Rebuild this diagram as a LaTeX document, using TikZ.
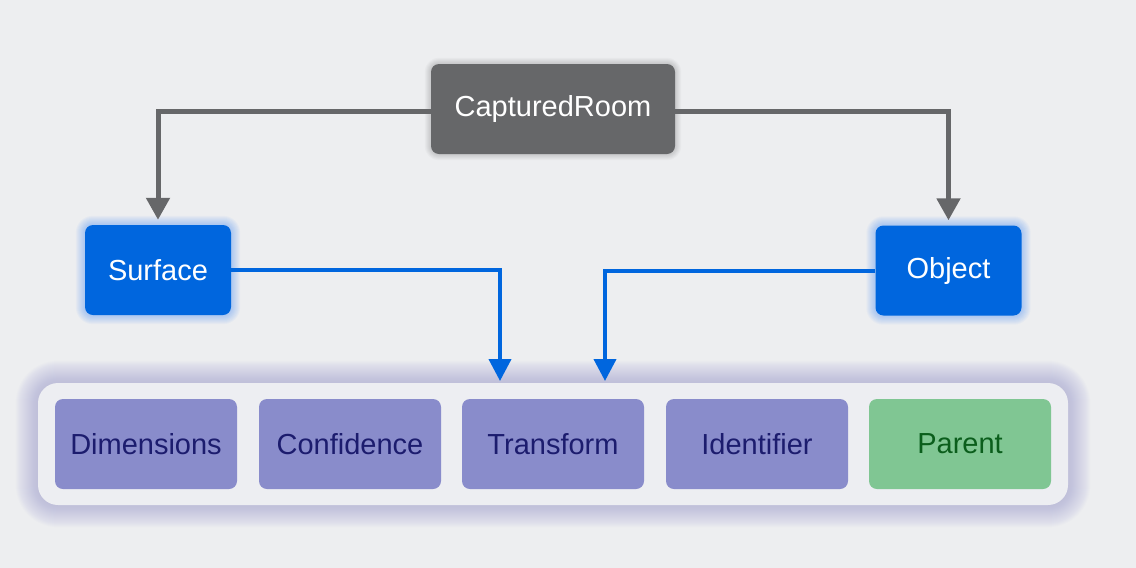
\documentclass[tikz,border=0pt]{standalone}
\usepackage{fontspec}
\setmainfont{Liberation Sans}
\usetikzlibrary{arrows.meta}
\definecolor{bgc}{HTML}{EDEEF0}
\definecolor{crgray}{HTML}{666769}
\definecolor{bluebox}{HTML}{0066DE}
\definecolor{purplebox}{HTML}{898CCB}
\definecolor{purpletext}{HTML}{1C1C6E}
\definecolor{greenbox}{HTML}{80C693}
\definecolor{greentext}{HTML}{0B5E1C}
\definecolor{contfill}{HTML}{EDEEF2}
\definecolor{contshadow}{HTML}{A8A8D8}
\definecolor{blueglow}{HTML}{3A88F0}
\pgfdeclarelayer{bglayer}
\pgfdeclarelayer{glowlayer}
\pgfsetlayers{bglayer,glowlayer,main}
\tikzset{
  box/.style={rectangle, rounded corners=8pt, inner sep=0pt, font=\fontsize{29}{32}\selectfont},
  rootbox/.style={box, fill=crgray, text=white, minimum width=244pt, minimum height=90pt},
  typebox/.style={box, fill=bluebox, text=white, minimum width=146pt, minimum height=90pt},
  propbox/.style={box, fill=purplebox, text=purpletext, minimum width=182pt, minimum height=90pt},
  parentbox/.style={box, fill=greenbox, text=greentext, minimum width=182pt, minimum height=90pt},
  grayarrow/.style={draw=crgray, line width=5pt, -{Triangle[width=23pt,length=22pt]}},
  bluearrow/.style={draw=bluebox, line width=4pt, -{Triangle[width=22pt,length=22pt]}},
}
\newcommand{\myglow}[5]{% node, color, steps, opacity, base radius
  \foreach \i in {1,...,#3}{
    \fill[#2, opacity=#4, rounded corners=#5+\i*1pt]
      ([shift={(-\i,-\i)}]#1.north west) rectangle ([shift={(\i,\i)}]#1.south east);
  }}
\begin{document}
\begin{tikzpicture}[x=1pt,y=-1pt]
\begin{pgfonlayer}{bglayer}
\fill[bgc] (0,0) rectangle (1136,568);
\end{pgfonlayer}
\useasboundingbox (0,0) rectangle (1136,568);
% container
\node[rectangle, rounded corners=20pt, fill=contfill, minimum width=1030pt, minimum height=122pt]
  (cont) at (553,444) {};
\node[rootbox] (cr) at (553,109) {CapturedRoom};
\node[typebox] (surf) at (158,270) {Surface};
\node[typebox] (obj) at (948.5,270.5) {Object};
\node[propbox] (dim) at (146,444) {Dimensions};
\node[propbox] (conf) at (350,444) {Confidence};
\node[propbox] (trans) at (553,444) {Transform};
\node[propbox] (ident) at (757,444) {Identifier};
\node[parentbox] (par) at (960,444) {Parent};
\begin{pgfonlayer}{glowlayer}
\myglow{cont}{contshadow}{22}{0.035}{20pt}
\myglow{surf}{blueglow}{9}{0.045}{8pt}
\myglow{obj}{blueglow}{9}{0.045}{8pt}
\myglow{cr}{black}{6}{0.025}{8pt}
\end{pgfonlayer}
\coordinate (tin1) at (500,381);
\coordinate (tin2) at (605,381);
\draw[grayarrow, shorten >=5pt] ([yshift=-2pt]cr.west) -| (surf.north);
\draw[grayarrow, shorten >=5pt] ([yshift=-2pt]cr.east) -| (obj.north);
\draw[bluearrow] (surf.east) -| (tin1);
\draw[bluearrow] (obj.west) -| (tin2);
\end{tikzpicture}
\end{document}
